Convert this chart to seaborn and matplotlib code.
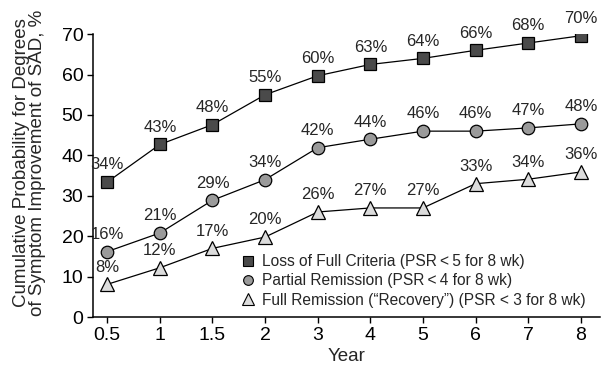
import matplotlib
matplotlib.use("Agg")
import matplotlib.pyplot as plt
import seaborn as sns
import pandas as pd
from matplotlib.lines import Line2D

years = ["0.5", "1", "1.5", "2", "3", "4", "5", "6", "7", "8"]
loss_vals = [33.4, 42.7, 47.6, 55.0, 59.7, 62.5, 64.0, 66.0, 67.8, 69.6]
loss_labels = ["34%", "43%", "48%", "55%", "60%", "63%", "64%", "66%", "68%", "70%"]
partial_vals = [16.2, 20.8, 28.9, 34.0, 41.9, 44.0, 46.0, 46.0, 46.8, 47.8]
partial_labels = ["16%", "21%", "29%", "34%", "42%", "44%", "46%", "46%", "47%", "48%"]
full_vals = [8.1, 12.2, 17.0, 19.8, 26.0, 27.0, 27.0, 33.0, 34.1, 35.9]
full_labels = ["8%", "12%", "17%", "20%", "26%", "27%", "27%", "33%", "34%", "36%"]

series_names = ["Loss of Full Criteria (PSR\u2009<\u20095 for 8 wk)",
                "Partial Remission (PSR\u2009<\u20094 for 8 wk)",
                "Full Remission (\u201cRecovery\u201d) (PSR < 3 for 8 wk)"]

sns.set_style("ticks")
plt.rcParams['font.family'] = ['Liberation Sans', 'DejaVu Sans']

rows = []
for name, vals, labs in zip(series_names, [loss_vals, partial_vals, full_vals],
                            [loss_labels, partial_labels, full_labels]):
    for i, (y, v, l) in enumerate(zip(years, vals, labs)):
        rows.append({"pos": i, "year": y, "value": v, "label": l, "series": name})
df = pd.DataFrame(rows)

fig = plt.figure(figsize=(6.04, 3.67), dpi=100)
ax = fig.add_axes([0.154, 0.136, 0.839, 0.771])

markers = ["s", "o", "^"]
faces = ["#4a4a4a", "#9a9a9a", "#dcdcdc"]
sizes = [9, 9, 10]

for name, m, fc, ms in zip(series_names, markers, faces, sizes):
    sub = df[df.series == name]
    sns.lineplot(data=sub, x="pos", y="value", ax=ax, color="black", linewidth=0.9,
                 marker=m, markersize=ms, markerfacecolor=fc, markeredgecolor="black",
                 markeredgewidth=0.9, legend=False, zorder=3)
    for _, r in sub.iterrows():
        ax.annotate(r["label"], (r["pos"], r["value"]), xytext=(0, 7),
                    textcoords="offset points", ha="center", va="bottom", fontsize=12)

ax.set_xlim(-0.27, 9.36)
ax.set_ylim(0, 70)
ax.set_xticks(range(len(years)))
ax.set_xticklabels(years)
ax.set_yticks(range(0, 71, 10))
ax.tick_params(axis="both", labelsize=14, direction="out", length=4, width=1, colors="black", pad=3)
sns.despine(ax=ax)
for s in ["left", "bottom"]:
    ax.spines[s].set_linewidth(1.1)
    ax.spines[s].set_color("black")
ax.set_xlabel("Year", fontsize=13.5, labelpad=3)
ax.set_ylabel("Cumulative Probability for Degrees\nof Symptom Improvement of SAD, %", fontsize=13.5,
              linespacing=0.95)
ax.yaxis.set_label_coords(-0.093, 0.545)

handles = [Line2D([], [], linestyle="none", marker=m, markersize=ms - 2, markerfacecolor=fc,
                  markeredgecolor="black", markeredgewidth=0.8)
           for m, fc, ms in zip(markers, faces, sizes)]
ax.legend(handles, series_names, loc="lower right", bbox_to_anchor=(0.99, 0.0), frameon=False,
          fontsize=11.2, handletextpad=0.4, labelspacing=0.28, handlelength=1.0, borderaxespad=0.2)

fig.savefig("out.png", dpi=100)
